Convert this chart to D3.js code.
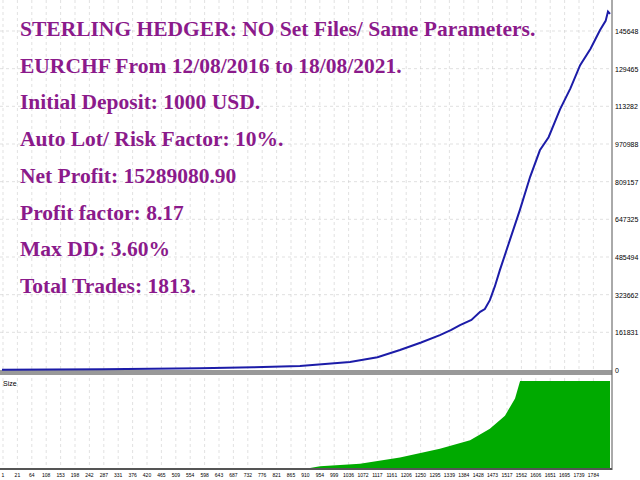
<!DOCTYPE html>
<html><head><meta charset="utf-8">
<script src="https://cdn.jsdelivr.net/npm/d3@7"></script>
<style>body{margin:0;background:#fff}</style></head>
<body><script>
'use strict';

// equity curve: trade number / balance
const trades = [1, 300, 591, 750, 889, 1038, 1120, 1187, 1250, 1306, 1340, 1366, 1400, 1426, 1440, 1455, 1470, 1485, 1515, 1545, 1575, 1604, 1630, 1664, 1695, 1724, 1755, 1783, 1800, 1807, 1813];
const balance = [1000, 3000, 8000, 12000, 17000, 34000, 55000, 86000, 118000, 150000, 172000, 193000, 215000, 250000, 262000, 300000, 360000, 430000, 560000, 690000, 830000, 944000, 1000000, 1120000, 1210000, 1310000, 1380000, 1460000, 1500000, 1540000, 1530000];
// lot size (fraction of max)
const volTrades = [1, 919, 949, 1068, 1187, 1306, 1396, 1455, 1500, 1530, 1545, 1813];
const volume = [0, 0, 0.02, 0.05, 0.12, 0.22, 0.32, 0.45, 0.6, 0.8, 1, 1];
const yTickVals = [0, 161831, 323662, 485494, 647325, 809157, 970988, 1132820, 1294651, 1456483];
const yTickLabels = ['0', '161831', '323662', '485494', '647325', '809157', '970988', '113282', '129465', '145648'];
const xTickLabels = ['1', '21', '64', '108', '153', '198', '242', '287', '331', '376', '420', '465', '509', '554', '598', '643', '687', '732', '776', '821', '865', '910', '954', '999', '1036', '1072', '1117', '1161', '1206', '1250', '1295', '1339', '1384', '1428', '1473', '1517', '1562', '1606', '1651', '1695', '1739', '1784'];
const lines = ['STERLING HEDGER: NO Set Files/ Same Parameters.', 'EURCHF From 12/08/2016 to 18/08/2021.', 'Initial Deposit: 1000 USD.', 'Auto Lot/ Risk Factor: 10%.', 'Net Profit: 15289080.90', 'Profit factor: 8.17', 'Max DD: 3.60%', 'Total Trades: 1813.'];

const width = 640, height = 480;
const svg = d3.select('body').append('svg').attr('width', width).attr('height', height);

const x = d3.scaleLinear().domain([1, 1813]).range([2, 610]);
const y = d3.scaleLinear().domain([0, 1456483]).range([370, 31]);
const yv = d3.scaleLinear().domain([0, 1]).range([468, 381]);

// grid
const xGrid = d3.range(xTickLabels.length).map(i => 3 + i * 14.4);
svg.selectAll('.vg').data(xGrid).enter().append('line')
  .attr('x1', d => d).attr('x2', d => d).attr('y1', 0).attr('y2', 468)
  .attr('stroke', '#ccc').attr('stroke-dasharray', '3,3').attr('stroke-width', 0.6);
svg.selectAll('.hg').data(yTickVals.slice(1)).enter().append('line')
  .attr('x1', 0).attr('x2', 612).attr('y1', d => y(d)).attr('y2', d => y(d))
  .attr('stroke', '#ccc').attr('stroke-dasharray', '3,3').attr('stroke-width', 0.6);

// panel separators and axes
svg.append('rect').attr('x', 0).attr('y', 370).attr('width', 612).attr('height', 5).attr('fill', '#999');
svg.append('line').attr('x1', 612).attr('x2', 612).attr('y1', 0).attr('y2', 470).attr('stroke', '#555');
svg.append('line').attr('x1', 0).attr('x2', 612).attr('y1', 469).attr('y2', 469).attr('stroke', '#555').attr('stroke-width', 2);

// volume area
svg.append('path')
  .datum(volTrades.map((t, i) => [t, volume[i]]))
  .attr('fill', '#00aa00')
  .attr('d', d3.area().x(d => x(d[0])).y0(yv(0)).y1(d => yv(d[1])));

// equity line
svg.append('path')
  .datum(trades.map((t, i) => [t, balance[i]]))
  .attr('fill', 'none').attr('stroke', '#1c1ca8').attr('stroke-width', 2)
  .attr('d', d3.line().x(d => x(d[0])).y(d => y(d[1])));

// right axis labels
svg.selectAll('.yl').data(yTickVals).enter().append('text')
  .attr('x', 615).attr('y', d => y(d) + 3)
  .style('font-family', 'Liberation Sans Narrow, Arial Narrow, sans-serif').style('font-size', '7px')
  .text((d, i) => yTickLabels[i]);

// bottom labels
svg.selectAll('.xl').data(xTickLabels).enter().append('text')
  .attr('x', (d, i) => xGrid[i]).attr('y', 477)
  .attr('text-anchor', 'middle')
  .style('font-family', 'Liberation Sans Narrow, sans-serif').style('font-size', '5px')
  .text(d => d);

svg.append('text').attr('x', 3).attr('y', 386)
  .style('font-family', 'sans-serif').style('font-size', '7px').text('Size');

// title block
svg.selectAll('.tl').data(lines).enter().append('text')
  .attr('x', 20).attr('y', (d, i) => 36 + i * 36.7)
  .attr('fill', '#8b1a8b')
  .style('font-family', 'Liberation Serif, serif').style('font-weight', 'bold').style('font-size', '21.5px')
  .text(d => d);
</script></body></html>
